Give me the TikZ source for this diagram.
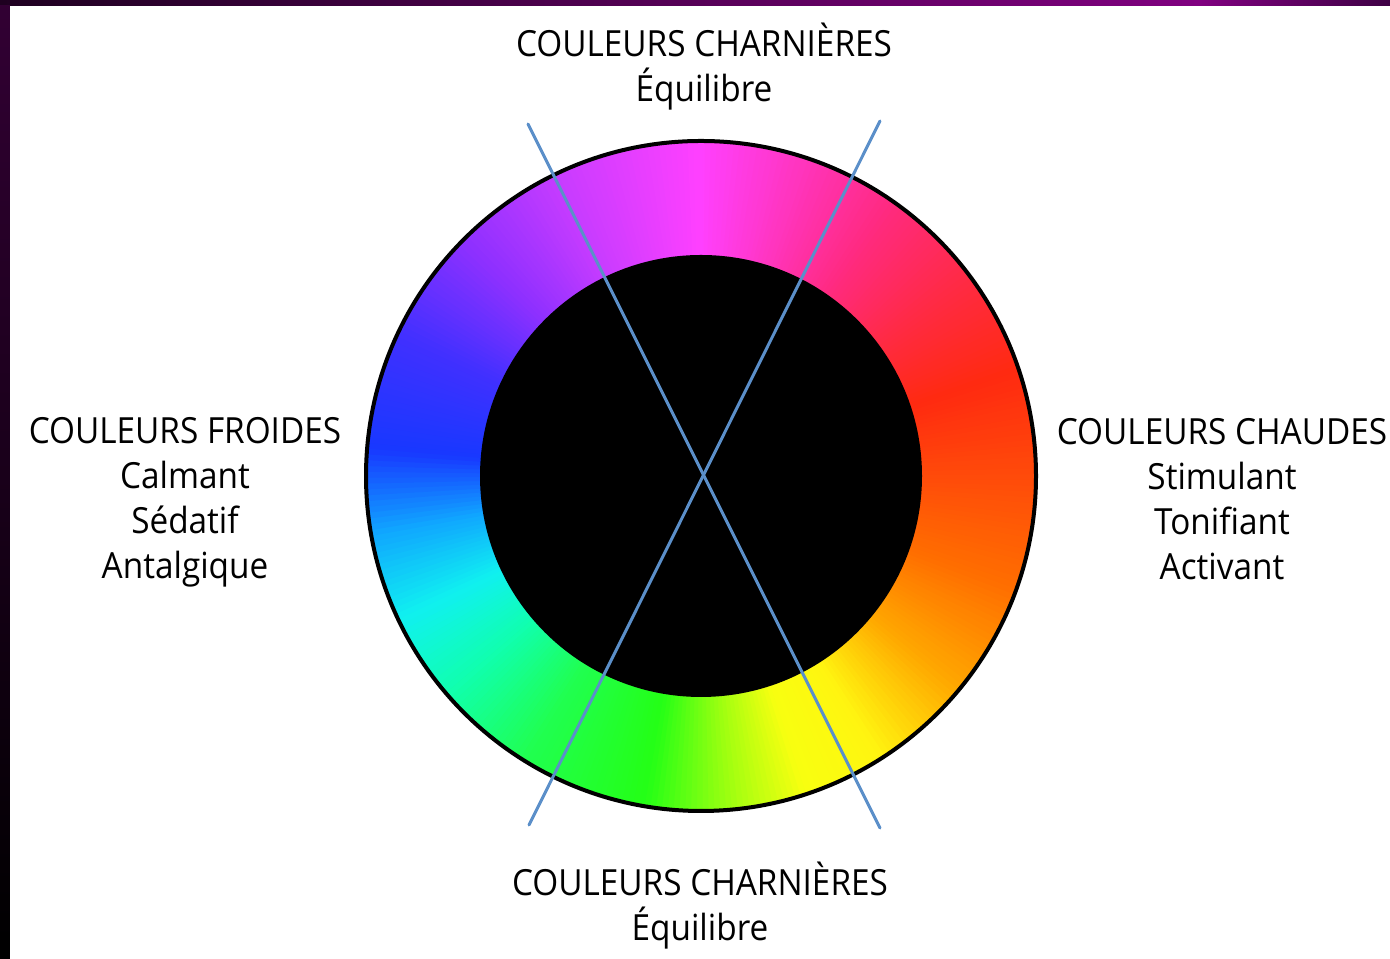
\documentclass[tikz,border=0pt]{standalone}
\usepackage{fontspec}
\setmainfont[FakeStretch=0.925]{Open Sans}
\definecolor{wMag}{HTML}{FF40FF}
\definecolor{wPink}{HTML}{FF2A80}
\definecolor{wRose}{HTML}{FF2A40}
\definecolor{wRed}{HTML}{FF2A10}
\definecolor{wRedOr}{HTML}{FF4A0A}
\definecolor{wDkOr}{HTML}{FF6E00}
\definecolor{wOr}{HTML}{FFA800}
\definecolor{wYel}{HTML}{FFF510}
\definecolor{wLime}{HTML}{F8FF10}
\definecolor{wYG}{HTML}{A0FF10}
\definecolor{wGrn}{HTML}{24FF16}
\definecolor{wSpr}{HTML}{20FF50}
\definecolor{wAqua}{HTML}{10FFB0}
\definecolor{wCyan}{HTML}{10F0F0}
\definecolor{wAzur}{HTML}{10A8FF}
\definecolor{wBlue}{HTML}{1838FF}
\definecolor{wIndi}{HTML}{4030FF}
\definecolor{wViol}{HTML}{8E30FF}
\definecolor{wPurp}{HTML}{C83CFF}
\definecolor{axisline}{HTML}{5B8FC9}
\definecolor{frameA}{HTML}{1E0020}
\definecolor{frameB}{HTML}{800080}
\definecolor{frameC}{HTML}{3E0044}
\tikzset{
  lbl/.style={align=center, font=\fontsize{20.5}{25.6}\selectfont},
  axis/.style={draw=axisline, line width=0.06cm, line cap=round}
}
\begin{document}
\begin{tikzpicture}
  \useasboundingbox (0,0) rectangle (27.8,19.18);
  % frame
  \shade[left color=frameA, right color=frameB] (0,19.06) rectangle (24,19.18);
  \shade[left color=frameB, right color=frameC] (24,19.06) rectangle (27.8,19.18);
  \shade[top color=frameA!80!frameB, bottom color=black] (0,0) rectangle (0.2,19.06);

  % ring
  \begin{scope}[shift={(14.02,9.66)}]
    \foreach \sa/\sb/\ca/\cb in {90/55/wMag/wPink, 55/35/wPink/wRose, 35/18/wRose/wRed,
        18/0/wRed/wRedOr, 0/-20/wRedOr/wDkOr, -20/-40/wDkOr/wOr, -40/-58/wOr/wYel,
        -58/-72/wYel/wLime, -72/-85/wLime/wYG, -85/-100/wYG/wGrn, -100/-122/wGrn/wSpr,
        -122/-140/wSpr/wAqua, -140/-155/wAqua/wCyan, -155/-170/wCyan/wAzur,
        -170/-185/wAzur/wBlue, -185/-205/wBlue/wIndi, -205/-225/wIndi/wViol,
        -225/-245/wViol/wPurp, -245/-270/wPurp/wMag}{
      \pgfmathtruncatemacro\n{\sa-\sb}
      \foreach \i in {1,...,\n}{
        \pgfmathtruncatemacro\p{100*(\i-0.5)/\n}
        \pgfmathsetmacro\aa{\sa-\i+1}
        \fill[\cb!\p!\ca] (0,0) -- (\aa+0.3:6.72) arc[start angle=\aa+0.3, end angle=\aa-1.3, radius=6.72] -- cycle;
      }
    }
    \draw[line width=0.08cm] (0,0) circle[radius=6.70];
    \fill[black] (0,0) circle[radius=4.42];
  \end{scope}

  % axes
  \coordinate (tl) at (10.56,16.70);
  \coordinate (br) at (17.60,2.62);
  \coordinate (tr) at (17.60,16.76);
  \coordinate (bl) at (10.58,2.68);
  \draw[axis] (tl) -- (br);
  \draw[axis] (tr) -- (bl);

  % labels
  \node[lbl] (top) at (14.08,17.84) {COULEURS CHARNIÈRES\\Équilibre};
  \node[lbl] (bottom) at (14.00,1.07) {COULEURS CHARNIÈRES\\Équilibre};
  \node[lbl] (cold) at (3.70,9.14) {COULEURS FROIDES\\Calmant\\Sédatif\\Antalgique};
  \node[lbl] (warm) at (24.44,9.20) {COULEURS CHAUDES\\Stimulant\\Tonifiant\\Activant};
\end{tikzpicture}
\end{document}
